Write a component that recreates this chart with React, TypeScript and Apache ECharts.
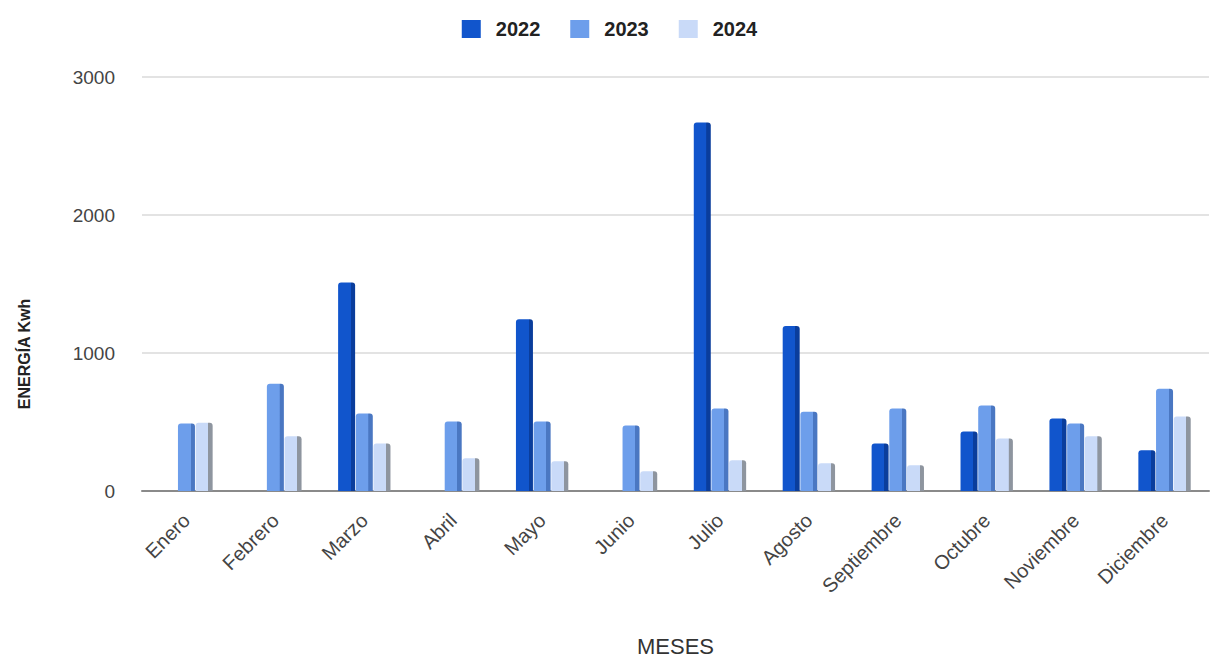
import React, { useEffect, useRef } from "react";
import * as echarts from "echarts";

const meses = ["Enero", "Febrero", "Marzo", "Abril", "Mayo", "Junio", "Julio", "Agosto", "Septiembre", "Octubre", "Noviembre", "Diciembre"];
const v2022 = [0, 0, 1510, 0, 1245, 0, 2670, 1195, 345, 432, 525, 295];
const v2023 = [490, 778, 561, 504, 504, 475, 597, 575, 597, 619, 489, 741];
const v2024 = [495, 396, 345, 237, 216, 144, 223, 201, 187, 381, 396, 540];
const yTicks = [0, 1000, 2000, 3000];

const FONT = "'Liberation Sans', Arial, Helvetica, sans-serif";

function face(front: string, side: string) {
  return new echarts.graphic.LinearGradient(0, 0, 1, 0, [
    { offset: 0, color: front },
    { offset: 0.74, color: front },
    { offset: 0.75, color: side },
    { offset: 1, color: side },
  ]);
}

export default function App() {
  const ref = useRef<HTMLDivElement>(null);
  useEffect(() => {
    if (!ref.current) return;
    const chart = echarts.init(ref.current, undefined, { renderer: "svg" });
    const mk = (name: string, data: number[], front: string, side: string) => ({
      name,
      type: "bar",
      data,
      barWidth: 17,
      barGap: "4%",
      itemStyle: { color: face(front, side), borderRadius: [3, 3, 0, 0] },
    });
    chart.setOption({
      animation: false,
      textStyle: { fontFamily: FONT },
      legend: {
        top: 14,
        left: "center",
        itemWidth: 19,
        itemHeight: 18,
        itemGap: 30,
        icon: "rect",
        textStyle: { fontWeight: "bold", fontSize: 20, color: "#222", padding: [0, 0, 0, 10], fontFamily: FONT },
        data: [
          { name: "2022", itemStyle: { color: "#1155cc" } },
          { name: "2023", itemStyle: { color: "#6d9eeb" } },
          { name: "2024", itemStyle: { color: "#c9daf8" } },
        ],
      },
      grid: { left: 142, right: 10, top: 77, bottom: 169, containLabel: false },
      xAxis: {
        type: "category",
        data: meses,
        name: "MESES",
        nameLocation: "middle",
        nameGap: 144,
        nameTextStyle: { fontSize: 22, color: "#333", fontFamily: FONT },
        axisLine: { lineStyle: { color: "#8a8a8a", width: 2 } },
        axisTick: { show: false },
        axisLabel: { rotate: 45, fontSize: 20, color: "#444", margin: 26, interval: 0, fontFamily: FONT },
      },
      yAxis: {
        type: "value",
        min: yTicks[0],
        max: yTicks[yTicks.length - 1],
        interval: 1000,
        axisLine: { show: false },
        axisTick: { show: false },
        axisLabel: { fontSize: 19, color: "#444", margin: 27, formatter: (v: number) => String(v), fontFamily: FONT },
        splitLine: { lineStyle: { color: "#e3e3e3", width: 2 } },
      },
      graphic: [
        {
          type: "text",
          x: 24,
          y: 354,
          rotation: Math.PI / 2,
          style: {
            text: "ENERGÍA Kwh",
            fontSize: 16,
            fontWeight: "bold",
            fill: "#222",
            align: "center",
            verticalAlign: "middle",
            fontFamily: FONT,
          },
        },
      ],
      series: [
        mk("2022", v2022, "#1155cc", "#0a3d9c"),
        mk("2023", v2023, "#6d9eeb", "#4a77c2"),
        mk("2024", v2024, "#c9daf8", "#8e959f"),
      ],
    });
    return () => chart.dispose();
  }, []);
  return <div ref={ref} style={{ width: 1219, height: 662, margin: -8 }} />;
}
